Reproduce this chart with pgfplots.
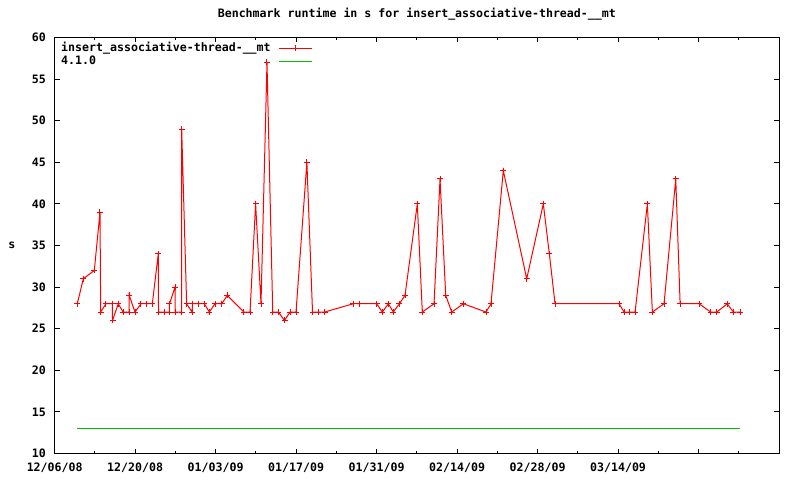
\documentclass[border=0pt]{standalone}
\usepackage{fontspec}
\usepackage{pgfplots}
\usepackage{pgfplotstable}
\pgfplotsset{compat=1.18}
\newfontfamily\gp{DejaVu Sans Mono}
\newcommand{\gpf}{\gp\bfseries\fontsize{11.6bp}{13bp}\selectfont}
\definecolor{gpred}{RGB}{255,0,0}
\definecolor{gpgreen}{RGB}{0,192,0}

\pgfplotstableread{
day val
3.93 28
4.98 31
6.89 32
7.88 39
8.00 27
8.92 28
10.02 28
10.06 26
11.06 28
11.90 27
12.93 27
12.96 29
13.97 27
15.01 28
16.01 28
16.98 28
18.02 34
18.06 27
19.02 27
19.94 27
19.97 28
20.93 30
20.96 27
22.06 27
22.09 49
22.95 28
23.90 27
23.97 28
24.98 28
26.03 28
26.90 27
27.89 28
29.05 28
30.03 29
32.93 27
33.98 27
34.95 40
35.89 28
36.93 57
37.93 27
38.90 27
39.98 26
40.94 27
41.98 27
43.87 45
44.85 27
45.89 27
46.94 27
51.95 28
52.94 28
56.02 28
56.99 27
58.04 28
58.91 27
59.95 28
60.94 29
63.08 40
63.95 27
65.99 28
67.03 43
68.02 29
69.07 27
71.09 28
75.03 27
75.90 28
78.04 44
82.11 31
85.00 40
86.05 34
87.04 28
98.18 28
99.05 27
99.97 27
100.96 27
103.10 40
103.97 27
106.00 28
108.04 43
108.80 28
112.11 28
114.10 27
115.17 27
117.00 28
118.06 27
119.22 27
}\runtimes

\pgfplotstableread{
day val
3.93 13
119.22 13
}\reference

\begin{document}
\begin{tikzpicture}
\begin{axis}[
  scale only axis, width=724.3bp, height=416bp,
  xmin=0, xmax=126, ymin=10, ymax=60,
  xtick={0,14,...,126},
  xticklabels={12/06/08,12/20/08,01/03/09,01/17/09,01/31/09,02/14/09,02/28/09,03/14/09,{},{}},
  minor xtick={7,21,...,119},
  ytick={10,15,...,60},
  yticklabels={10,15,20,25,30,35,40,45,50,55,60},
  major tick length=5bp, minor tick length=2.5bp,
  tick align=inside,
  every tick/.style={black, line width=1bp},
  axis line style={black, line width=1bp},
  every tick label/.append style={font=\gpf, inner sep=0pt},
  xticklabel style={anchor=north, yshift=-9.5bp},
  yticklabel style={anchor=east, xshift=-8.7bp},
  title={Benchmark runtime in s for insert\_associative-thread-\_\_mt},
  title style={font=\gpf, at={(0.5,1)}, anchor=base, yshift=14.2bp, inner sep=0pt},
  ylabel={s},
  ylabel style={font=\gpf, rotate=-90, at={(rel axis cs:-0.059,0.5)}, anchor=center, inner sep=0pt},
  legend plot pos=right,
  legend cell align=left,
  legend style={at={(0.0087,0.988)}, anchor=north west, draw=none, fill=none,
    font=\gpf, inner sep=0pt, row sep=2bp, column sep=8bp,
    nodes={inner sep=0pt, text height=8.5bp, text depth=2.5bp}},
  legend image code/.code={\draw[mark repeat=2,mark phase=2,#1] plot coordinates {(0bp,0bp) (16.5bp,0bp) (33bp,0bp)};},
]
\coordinate (O) at (rel axis cs:0,0);
\addplot[color=gpred, line width=1bp, mark=+, mark size=3bp, mark options={draw=gpred, solid, line width=1bp}] table[x=day,y=val] {\runtimes};
\addlegendentry{insert\_associative-thread-\_\_mt}
\addplot[color=gpgreen, line width=1bp] table[x=day,y=val] {\reference};
\addlegendentry{4.1.0}
\end{axis}
\pgfresetboundingbox
\path[use as bounding box] ([shift={(-54.7bp,-26.5bp)}]O) rectangle ++(800bp,480bp);
\end{tikzpicture}
\end{document}
